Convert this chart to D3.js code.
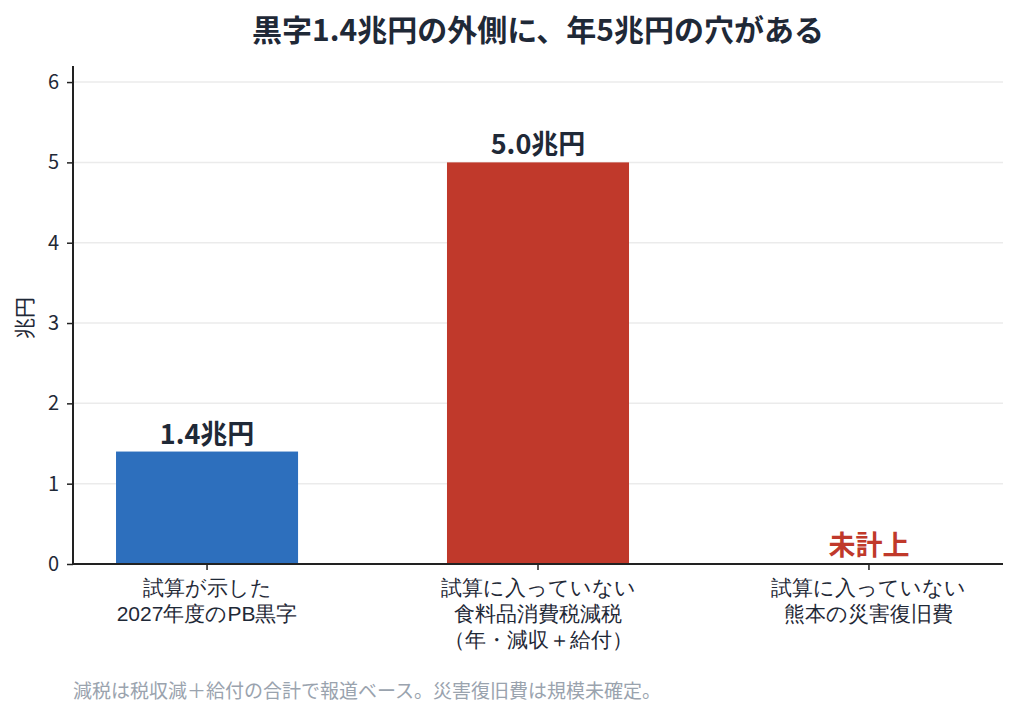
<!DOCTYPE html>
<html><head><meta charset="utf-8">
<script src="https://cdn.jsdelivr.net/npm/d3@7"></script>
<style>body{margin:0;background:#fff;}svg{display:block;font-family:"Noto Sans CJK JP","Noto Sans",sans-serif;}</style>
</head><body><svg id="c" width="1017" height="718"></svg>
<script>
const categories = [["試算が示した","2027年度のPB黒字"],["試算に入っていない","食料品消費税減税","（年・減収＋給付）"],["試算に入っていない","熊本の災害復旧費"]];
const values = [1.4, 5.0, 0];
const valueLabels = ["1.4兆円","5.0兆円","未計上"];
const barColors = ["#2d6fbd","#c0392b","#c0392b"];
const yTicks = [0,1,2,3,4,5,6];
const title = "黒字1.4兆円の外側に、年5兆円の穴がある";
const yLabel = "兆円";
const note = "減税は税収減＋給付の合計で報道ベース。災害復旧費は規模未確定。";

const svg = d3.select("#c");
const m = {l:73, r:1003, t:66, b:564};
const x = d3.scaleBand().domain(d3.range(values.length)).range([m.l,m.r]).paddingInner(0.45).paddingOuter(0.13);
const y = d3.scaleLinear().domain([0,6.2]).range([m.b,m.t]);
const dark = "#1f2937";

// grid
svg.append("g").selectAll("line").data(yTicks.filter(d=>d>0)).join("line")
  .attr("x1",m.l).attr("x2",m.r).attr("y1",d=>y(d)).attr("y2",d=>y(d))
  .attr("stroke","#ebebeb").attr("stroke-width",1.5);

// bars
svg.append("g").selectAll("rect").data(values).join("rect")
  .attr("x",(d,i)=>x(i)).attr("width",x.bandwidth())
  .attr("y",d=>y(d)).attr("height",d=>y(0)-y(d))
  .attr("fill",(d,i)=>barColors[i]);

// value labels
svg.append("g").selectAll("text").data(values).join("text")
  .attr("x",(d,i)=>x(i)+x.bandwidth()/2)
  .attr("y",d=>y(d)-(d===0?9:8))
  .attr("text-anchor","middle").attr("font-weight","bold").attr("font-size",27)
  .attr("fill",(d,i)=>values[i]===0?"#c0392b":dark)
  .text((d,i)=>valueLabels[i]);

// y axis
const ya = svg.append("g").attr("transform",`translate(${m.l},0)`)
  .call(d3.axisLeft(y).tickValues(yTicks).tickSize(6).tickPadding(8).tickFormat(d3.format("d")));
ya.select(".domain").attr("d",`M0,${m.t}V${m.b}`).attr("stroke","#222").attr("stroke-width",2);
ya.selectAll(".tick line").attr("stroke","#222").attr("stroke-width",1.5);
ya.selectAll(".tick text").attr("font-size",20).attr("fill",dark).attr("font-family","'Noto Sans CJK JP'");

// x axis
const xa = svg.append("g").attr("transform",`translate(0,${m.b})`)
  .call(d3.axisBottom(x).tickSize(6).tickFormat(""));
xa.select(".domain").attr("d",`M${m.l},0H${m.r}`).attr("stroke","#222").attr("stroke-width",2);
xa.selectAll(".tick line").attr("stroke","#222").attr("stroke-width",1.5);
xa.selectAll(".tick").each(function(d){
  const t = d3.select(this).append("text").attr("fill",dark).attr("font-size",21).attr("text-anchor","middle");
  categories[d].forEach((s,j)=>t.append("tspan").attr("x",0).attr("y",31+j*26).text(s));
});

// title
svg.append("text").attr("x",(m.l+m.r)/2).attr("y",41).attr("text-anchor","middle")
  .attr("font-size",30).attr("font-weight","bold").attr("fill",dark).text(title);

// y label
svg.append("text").attr("transform",`translate(32,318) rotate(-90)`).attr("text-anchor","middle")
  .attr("font-size",21).attr("fill",dark).text(yLabel);

// note
svg.append("text").attr("x",73).attr("y",698).attr("font-size",19).attr("fill","#9aa3ae").text(note);
</script></body></html>
